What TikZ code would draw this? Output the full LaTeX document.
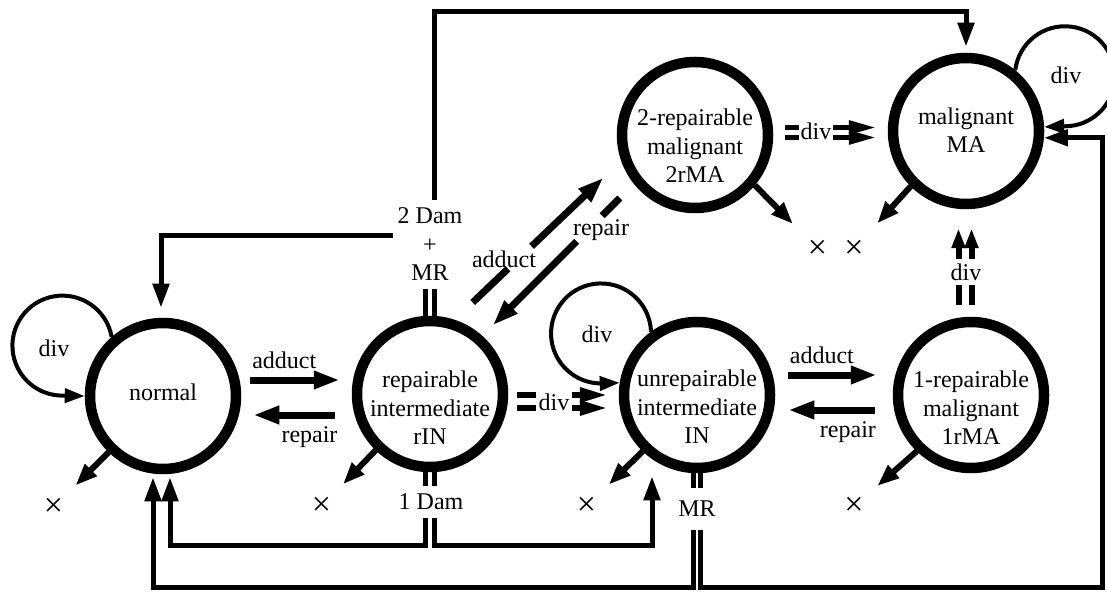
\documentclass[tikz,border=0pt]{standalone}
\usepackage{fontspec}
\setmainfont{Liberation Serif}
\usetikzlibrary{arrows.meta,calc}
\newcommand{\stfont}{\fontsize{24}{28.5}\selectfont}
\begin{document}
\begin{tikzpicture}[x=1pt,y=1pt,
  state/.style={circle,draw,line width=10.5pt,minimum size=146pt,inner sep=0pt},
  stxt/.style={align=center,font=\stfont,inner sep=0pt},
  lbl/.style={font=\stfont,inner sep=0pt},
  tr/.style={line width=7pt,-{Triangle[length=26pt,width=17pt]}},
  trn/.style={line width=7pt},
  ex/.style={line width=6pt,-{Triangle[length=22pt,width=16pt]},shorten >=18pt},
  lp/.style={line width=4pt,-{Triangle[length=20pt,width=14pt]}},
  cn/.style={line width=5pt},
  cna/.style={line width=5pt,-{Triangle[length=24pt,width=16pt]}},
  dv/.style={line width=6pt,-{Triangle[length=28pt,width=14pt]}},
  dvtwo/.style={line width=5.5pt,-{Triangle[length=28pt,width=13pt]}},
  dvthree/.style={line width=6pt,-{Triangle[length=20pt,width=13pt]}},
  xm/.style={font=\fontsize{34}{34}\selectfont,inner sep=0pt},
  jn/.style={font=\stfont,align=center,inner xsep=4pt,inner ysep=8pt},
]
\useasboundingbox (0,0) rectangle (1107,592);

% states
\node[state,label={[stxt,yshift=4pt]center:normal}] (normal) at (163,196) {};
\node[state,label={[stxt,yshift=-14pt]center:repairable\\intermediate\\rIN}] (rIN) at (430,198) {};
\node[state,label={[stxt,yshift=-12pt]center:unrepairable\\intermediate\\IN}] (IN) at (697,197) {};
\node[state,label={[stxt,yshift=-13pt]center:1-repairable\\malignant\\1rMA}] (r1MA) at (971,197) {};
\node[state,label={[stxt,yshift=-11pt]center:2-repairable\\malignant\\2rMA}] (r2MA) at (695,457) {};
\node[state,label={[stxt,yshift=1pt]center:malignant\\MA}] (MA) at (966,461) {};

% self loops
\draw[lp] (normal.131) arc[start angle=10,end angle=270,radius=50] -- (normal.180);
\node[lbl] (dvn) at (54,244) {div};
\draw[lp] (IN.126) arc[start angle=2,end angle=270,radius=50] -- (IN.171);
\node[lbl] (dvi) at (597,258) {div};
\draw[lp] (MA.51) arc[start angle=173,end angle=-90,radius=50] -- (MA.3);
\node[lbl] (dvm) at (1066,517) {div};

% adduct / repair horizontal
\draw[tr] ([shift={(9,16)}]normal.east) -- node[lbl,pos=.38,yshift=20pt]{adduct} ([shift={(-12,14)}]rIN.west);
\draw[tr] ([shift={(-17,-21)}]rIN.west) -- node[lbl,pos=.31,yshift=-22pt]{repair} ([shift={(12,-19)}]normal.east);
\draw[tr] ([shift={(13,20)}]IN.east) -- node[lbl,pos=.38,yshift=20pt]{adduct} ([shift={(-16,20)}]r1MA.west);
\draw[tr] ([shift={(-18,-15)}]r1MA.west) -- node[lbl,pos=.31,yshift=-22pt]{repair} ([shift={(13,-15)}]IN.east);

% adduct / repair diagonal
\coordinate (adA) at ($(rIN.center)+(65:101)$);
\coordinate (adB) at ($(r2MA.center)+(205:101)$);
\draw[trn] (adA) -- ($(adA)!0.27!(adB)$);
\draw[tr] ($(adA)!0.45!(adB)$) -- (adB);
\node[lbl] (adl) at (504,333) {adduct};
\coordinate (rpA) at ($(r2MA.center)+(220:98)$);
\coordinate (rpB) at ($(rIN.center)+(47.6:93)$);
\draw[trn] (rpA) -- ($(rpA)!0.14!(rpB)$);
\draw[tr] ($(rpA)!0.34!(rpB)$) -- (rpB);
\node[lbl] (rpl) at (601,362) {repair};

% div double arrows
\draw[dv] ([shift={(9,-1)}]rIN.east) -- ([shift={(-11,0)}]IN.west);
\draw[dv] ([shift={(9,-14)}]rIN.east) -- ([shift={(-11,-13)}]IN.west);
\node[lbl,fill=white,inner xsep=2.8pt,inner ysep=3pt] (dva) at (554,190) {div};
\draw[dvtwo] ([shift={(12,7.5)}]r2MA.east) -- ([shift={(-11,3.5)}]MA.west);
\draw[dvtwo] ([shift={(12,-2.5)}]r2MA.east) -- ([shift={(-11,-6.5)}]MA.west);
\node[lbl,fill=white,inner xsep=2pt,inner ysep=3pt] (dvb) at (816,461) {div};
\draw[dvthree] ([shift={(-12.5,12)}]r1MA.north) -- ([shift={(-7.5,-19)}]MA.south);
\draw[dvthree] ([shift={(0.5,12)}]r1MA.north) -- ([shift={(5.5,-19)}]MA.south);
\node[lbl,fill=white,inner xsep=1pt,inner ysep=5pt] (dvc) at (966,320) {div};

% exits
\node[xm] (x1) at (53.5,84.5) {×};
\node[xm] (x2) at (321.5,85.5) {×};
\node[xm] (x3) at (586.5,85.5) {×};
\node[xm] (x4) at (854,85.5) {×};
\node[xm] (x5) at (817.5,343) {×};
\node[xm] (x6) at (854,343) {×};
\draw[ex] (normal.226) -- (x1);
\draw[ex] (rIN.226) -- (x2);
\draw[ex] (IN.226) -- (x3);
\draw[ex] (r1MA.226) -- (x4);
\draw[ex,shorten >=22pt] (r2MA.-40) -- (x5);
\draw[ex,shorten >=22pt] (MA.225) -- (x6);

% 2 Dam + MR junction
\node[jn] (dam2) at (430,347.5) {2 Dam\\+\\MR};
\coordinate (rtL) at ([xshift=-4.5pt]rIN.north);
\coordinate (rtR) at ([xshift=4.5pt]rIN.north);
\draw[cn] (rtL) -- (rtL |- dam2.south);
\draw[cn] (rtR) -- (rtR |- dam2.south);
\coordinate (tL) at ([xshift=4pt]dam2.north);
\draw[cna] (tL) -- (tL |- 0,580) -| ([yshift=6pt]MA.north);
\draw[cna] ([yshift=9pt]dam2.west) -| ([xshift=-2pt,yshift=10pt]normal.north);

% 1 Dam junction
\node[jn,inner ysep=7.5pt] (dam1) at (431,90) {1 Dam};
\coordinate (rbL) at ([xshift=-4.5pt]rIN.south);
\coordinate (rbR) at ([xshift=4.5pt]rIN.south);
\draw[cn] (rbL) -- (rbL |- dam1.north);
\draw[cn] (rbR) -- (rbR |- dam1.north);
\coordinate (nA) at ([xshift=7pt,yshift=-3pt]normal.south);
\coordinate (iA) at ([xshift=-45pt,yshift=-3pt]IN.south);
\draw[cna] (rbL |- dam1.south) -- (rbL |- 0,47) -| (nA);
\draw[cna] (rbR |- dam1.south) -- (rbR |- 0,47) -| (iA);

% MR junction
\node[jn,inner ysep=13pt,inner xsep=2pt] (mr) at (697,83) {MR};
\coordinate (ibL) at ([xshift=-3.2pt]IN.south);
\coordinate (ibR) at ([xshift=3.2pt]IN.south);
\draw[cn] (ibL) -- (ibL |- mr.north);
\draw[cn] (ibR) -- (ibR |- mr.north);
\coordinate (nB) at ([xshift=-10pt,yshift=-3pt]normal.south);
\coordinate (rbus) at (1102,5);
\draw[cna] (ibL |- mr.south) -- (ibL |- 0,5) -| (nB);
\draw[cna] (ibR |- mr.south) -- (ibR |- rbus) -- (rbus) |- (MA.-5);
\end{tikzpicture}
\end{document}
